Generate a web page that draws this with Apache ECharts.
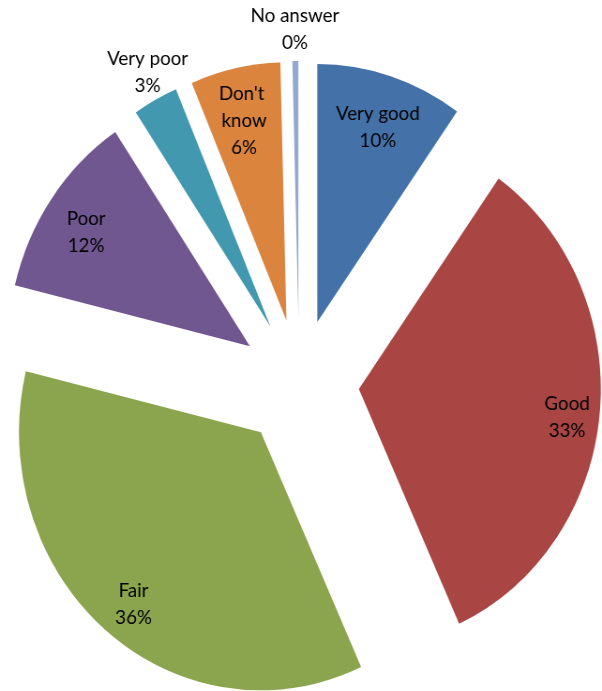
<!DOCTYPE html>
<html>
<head>
<meta charset="utf-8">
<script src="https://cdn.jsdelivr.net/npm/echarts@6/dist/echarts.min.js"></script>
<style>
    html, body { margin: 0; padding: 0; background: #fff; overflow: hidden; }
    /* 原图横向被压缩，这里整体横向缩放 */
    #chart { width: 642px; height: 691px; transform: scaleX(0.9377); transform-origin: 0 0; }
</style>
</head>
<body>
<div id="chart"></div>
<script>
// 分类
var categories = ['Very good', 'Good', 'Fair', 'Poor', 'Very poor', "Don't know", 'No answer'];
// 数值（%）
var values = [9.8, 33.4, 35.6, 11.8, 3.0, 6.0, 0.4];
// 颜色
var colors = ['#4472a8', '#a94543', '#8ba54f', '#71578f', '#4299af', '#da843e', '#93a9d0'];
// 标签放在饼外的分类
var outsideNames = ['Very poor', 'No answer'];

var center = [319, 383];
var radius = 258;
var offset = 64;

function pctLabel(params) {
    return params.name + '\n' + Math.round(params.percent) + '%';
}

// 饼图数据
function buildData(type) {
    return categories.map(function (name, i) {
        var item = { name: name, value: values[i], selected: true };
        if (type === 'pie') {
            item.itemStyle = { color: colors[i] };
        } else {
            var outside = outsideNames.indexOf(name) > -1;
            var show = type === 'outer' ? outside : !outside;
            item.label = { show: show };
            if (name === "Don't know") {
                item.label.width = 56;
                item.label.overflow = 'break';
            }
            // 微调个别标签（横向）
            if (name === 'Good') {
                item.label.padding = [0, 0, 0, 20];
            }
            if (name === 'Very poor') {
                item.label.padding = [0, 0, 4, 14];
            }
        }
        return item;
    });
}

function baseSeries(type, c, r) {
    return {
        type: 'pie',
        center: c,
        radius: r,
        startAngle: 90,
        clockwise: true,
        minAngle: 0,
        avoidLabelOverlap: false,
        selectedMode: 'multiple',
        selectedOffset: offset,
        silent: true,
        emphasis: { disabled: true },
        labelLine: { show: false },
        itemStyle: { borderWidth: 0, color: 'rgba(0,0,0,0)' },
        label: {
            show: false,
            position: 'inside',
            formatter: pctLabel,
            color: '#000',
            fontFamily: 'Lato',
            fontSize: 20,
            lineHeight: 27,
            align: 'center'
        },
        data: buildData(type)
    };
}

var myChart = echarts.init(document.getElementById('chart'));
var option = {
    animation: false,
    backgroundColor: '#fff',
    series: [
        baseSeries('pie', center, [0, radius]),
        // 饼内标签（文字略偏下）
        baseSeries('inner', [center[0], center[1] + 8], [162, radius]),
        // 饼外标签
        baseSeries('outer', center, [radius, 316])
    ]
};
myChart.setOption(option);
</script>
</body>
</html>
